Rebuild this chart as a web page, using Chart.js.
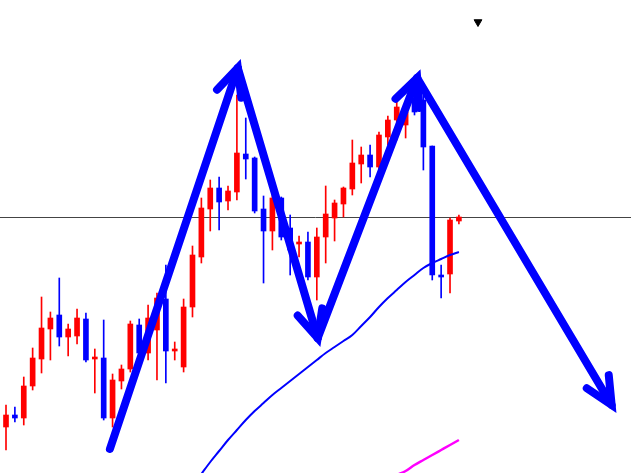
<!DOCTYPE html>
<html>
<head>
<meta charset="utf-8">
<script src="https://cdn.jsdelivr.net/npm/chart.js@4"></script>
<style>
  html, body { margin: 0; padding: 0; background: #fff; }
  #wrap { width: 631px; height: 473px; position: relative; }
</style>
</head>
<body>
<div id="wrap"><canvas id="priceChart"></canvas></div>
<script>
// candle data, one entry per bar (index 0 is the partly hidden bar at the left edge)
const opens  = [13, 46, 58, 55, 87, 114, 144, 158, 136, 137, 154, 114, 115, 55, 92, 104, 148, 120, 143, 174, 122, 106, 166, 216, 264, 285, 272, 281, 319, 315, 264, 242, 275, 245, 229, 231, 196, 236, 255, 269, 284, 309, 318, 306, 336, 353, 348, 375, 373, 327, 198, 199, 252];
const highs  = [58, 68, 66, 96, 125, 176, 161, 195, 149, 164, 160, 124, 153, 99, 108, 152, 154, 168, 180, 208, 131, 174, 227, 275, 293, 296, 287, 378, 355, 316, 277, 280, 276, 258, 237, 241, 245, 287, 273, 286, 333, 326, 328, 341, 357, 373, 368, 381, 378, 327, 208, 255, 258];
const lows   = [0, 23, 51, 48, 83, 100, 113, 127, 117, 129, 111, 80, 53, 46, 84, 101, 115, 113, 93, 90, 113, 101, 156, 210, 242, 243, 263, 273, 294, 260, 190, 223, 233, 198, 216, 193, 173, 210, 232, 256, 278, 290, 296, 303, 328, 333, 335, 358, 303, 193, 175, 180, 249];
const closes = [43, 58, 55, 87, 115, 145, 155, 136, 144, 155, 113, 115, 55, 93, 104, 149, 120, 155, 175, 122, 124, 166, 218, 265, 285, 271, 282, 320, 314, 262, 242, 275, 236, 223, 231, 196, 236, 259, 270, 285, 310, 318, 306, 338, 353, 366, 361, 361, 326, 198, 196, 253, 256];

// moving averages (null where the line is off the chart)
const maBlue = [null, null, null, null, null, null, null, null, null, null, null, null, null, null, null, null, null, null, null, null, null, null, null,
  -1, 11, 22, 33, 43, 53, 62, 70, 78, 85, 92, 99, 106, 113, 120, 126, 132, 138, 147, 156, 166, 175, 183, 191, 198, 205, 210, 214, 218, 221];
const maMagenta = [null, null, null, null, null, null, null, null, null, null, null, null, null, null, null, null, null, null, null, null, null, null, null,
  null, null, null, null, null, null, null, null, null, null, null, null, null, null, null, null, null, null, null, null, null, null,
  -2, 2, 8, 13, 18, 23, 28, 33];

// hand-drawn trend arrows: [x (bar index), price] pairs
const arrowUp1   = [[12.7, 24], [27.1, 405]];
const arrowDown1 = [[27.1, 405], [36.1, 135]];
const arrowUp2   = [[36.1, 135], [47.3, 395]];
const arrowDown2 = [[47.3, 395], [69.2, 68]];

const levelPrice = 255.5;
const markerPoint = [54.15, 451];

const UP = '#ff0000';
const DOWN = '#0000ff';

const idx = opens.map((_, i) => i);
const candleColor = opens.map((o, i) => closes[i] >= o ? UP : DOWN);

// draws arrowheads at the end of datasets flagged with arrow: true
const arrowHeads = {
  id: 'arrowHeads',
  afterDatasetsDraw(chart) {
    const ctx = chart.ctx;
    chart.data.datasets.forEach((ds, di) => {
      if (!ds.arrow) return;
      const pts = chart.getDatasetMeta(di).data;
      const a = pts[pts.length - 2], b = pts[pts.length - 1];
      const ang = Math.atan2(b.y - a.y, b.x - a.x);
      const len = 30, spread = 0.44;
      ctx.save();
      ctx.strokeStyle = ds.borderColor;
      ctx.lineWidth = ds.borderWidth;
      ctx.lineCap = 'round';
      ctx.beginPath();
      ctx.moveTo(b.x - len * Math.cos(ang - spread), b.y - len * Math.sin(ang - spread));
      ctx.lineTo(b.x, b.y);
      ctx.lineTo(b.x - len * Math.cos(ang + spread), b.y - len * Math.sin(ang + spread));
      ctx.stroke();
      ctx.restore();
    });
  }
};

function arrowSet(points) {
  return {
    type: 'line',
    arrow: true,
    data: points.map(p => ({x: p[0], y: p[1]})),
    borderColor: '#0000ff',
    borderWidth: 8,
    borderCapStyle: 'round',
    borderJoinStyle: 'round',
    pointRadius: 0,
    tension: 0,
    order: 0
  };
}

new Chart(document.getElementById('priceChart'), {
  type: 'bar',
  data: {
    datasets: [
      arrowSet(arrowUp1),
      arrowSet(arrowDown1),
      arrowSet(arrowUp2),
      arrowSet(arrowDown2),
      {
        type: 'scatter',
        data: [{x: markerPoint[0], y: markerPoint[1]}],
        pointStyle: 'triangle',
        rotation: 180,
        pointRadius: 4.5,
        backgroundColor: '#000',
        borderColor: '#000',
        order: 0
      },
      {
        type: 'line',
        data: idx.map(i => ({x: i, y: maBlue[i]})),
        borderColor: '#0000ff',
        borderWidth: 2,
        pointRadius: 0,
        cubicInterpolationMode: 'monotone',
        order: 1
      },
      {
        type: 'line',
        data: idx.map(i => ({x: i, y: maMagenta[i]})),
        borderColor: '#ff00ff',
        borderWidth: 2.5,
        pointRadius: 0,
        cubicInterpolationMode: 'monotone',
        order: 1
      },
      {
        // candle bodies
        data: idx.map(i => ({x: i, y: [opens[i], closes[i]]})),
        backgroundColor: candleColor,
        borderWidth: 0,
        barThickness: 5,
        minBarLength: 2,
        grouped: false,
        order: 2
      },
      {
        // wicks
        data: idx.map(i => ({x: i, y: [lows[i], highs[i]]})),
        backgroundColor: candleColor,
        borderWidth: 0,
        barThickness: 1,
        grouped: false,
        order: 3
      },
      {
        type: 'line',
        data: [{x: -5, y: levelPrice}, {x: 80, y: levelPrice}],
        borderColor: '#444444',
        borderWidth: 1,
        pointRadius: 0,
        order: 4
      }
    ]
  },
  options: {
    responsive: true,
    maintainAspectRatio: false,
    animation: false,
    layout: { padding: 0, autoPadding: false },
    plugins: {
      legend: { display: false },
      tooltip: { enabled: false }
    },
    scales: {
      x: {
        type: 'linear',
        display: false,
        offset: false,
        min: 0.324,
        max: 71.38
      },
      y: {
        display: false,
        min: 0,
        max: 473
      }
    }
  },
  plugins: [arrowHeads]
});
</script>
</body>
</html>
